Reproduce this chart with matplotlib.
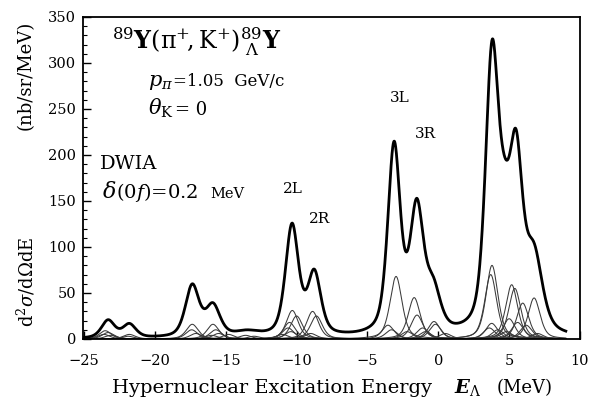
import numpy as np
import matplotlib
matplotlib.use("Agg")
import matplotlib.pyplot as plt
from matplotlib.ticker import MultipleLocator

plt.rcParams['font.family'] = ['DejaVu Serif']
plt.rcParams['mathtext.fontset'] = 'dejavuserif'

# ---- data ----
# peaks of the total (thick) spectrum: energy (MeV), value at that energy (nb/sr/MeV), FWHM (MeV)
peak_E = [-23.3, -21.8, -17.36, -15.9, -13.5, -10.32, -8.75, -3.12, -1.52, -0.35, 3.79, 4.65, 5.49, 6.75]
peak_val = [21, 17, 60, 39.5, 10, 126, 76, 215, 153, 68, 325, 200, 228, 105]
peak_W = [1.1, 1.1, 1.15, 1.2, 2.0, 1.1, 1.1, 1.05, 1.15, 1.2, 1.1, 1.15, 1.1, 1.4]

# individual (thin) components: energy, peak height, FWHM
comp_E = [-23.5, -23.3, -23.6, -23.1, -21.8, -21.9,
          -17.36, -15.9, -17.4, -17.1, -15.7, -15.5, -16.0, -14.8, -13.6, -13.0,
          -10.3, -10.0, -10.5, -10.6, -10.4, -8.87, -8.6, -9.0, -11.0,
          -2.98, -1.7, -1.5, -0.3, -0.2, -3.55, -3.3, -1.1, -2.2, 0.5, -0.9,
          3.79, 3.7, 5.18, 5.4, 5.96, 6.76, 3.77, 3.6, 4.2, 5.0, 5.6, 6.2, 4.8, 7.0]
comp_H = [9, 7, 5, 4, 5, 3,
          16, 16, 10, 6, 10, 6, 4, 5, 4, 3,
          31, 25, 18, 12, 8, 30, 25, 6, 5,
          68, 45, 26, 19, 16, 15, 10, 12, 8, 6, 8,
          80, 70, 59, 55, 39, 44.6, 17, 12, 10, 22, 18, 15, 8, 6]
comp_W = [1.0] * len(comp_E)

xticks = [-25, -20, -15, -10, -5, 0, 5, 10]
yticks = [0, 50, 100, 150, 200, 250, 300, 350]


def shape(x, e0, w, eta=0.5):
    # pseudo-Voigt line shape, normalised to 1 at the centre
    lor = 1.0 / (1.0 + ((x - e0) / (w / 2.0)) ** 2)
    sig = w / 2.3548
    gau = np.exp(-0.5 * ((x - e0) / sig) ** 2)
    return eta * lor + (1 - eta) * gau


W, H = 591, 407
fig = plt.figure(figsize=(W / 100, H / 100), dpi=100)
ax = fig.add_axes([83 / W, 1 - 339 / H, (580 - 83) / W, (339 - 17) / H])

x = np.linspace(-25.0, 9.0, 2000)

# thin components
for e0, h, w in zip(comp_E, comp_H, comp_W):
    ax.plot(x, h * shape(x, e0, w), color='#3a3a3a', lw=0.75)

# total spectrum passes through the read peak values
pe = np.array(peak_E)
pw = np.array(peak_W)
A = np.array([[shape(ei, ej, wj) for ej, wj in zip(pe, pw)] for ei in pe])
amp = np.linalg.solve(A, np.array(peak_val, float))
amp = np.clip(amp, 0, None)
total = sum(a * shape(x, e0, w) for a, e0, w in zip(amp, pe, pw))
ax.plot(x, total, color='black', lw=2.0)

ax.set_xlim(-25.07, 10.0)
ax.set_ylim(0, 350)
ax.set_xticks(xticks)
ax.set_yticks(yticks)
ax.yaxis.set_minor_locator(MultipleLocator(10))
ax.tick_params(axis='y', which='major', direction='in', length=6, width=1.0, pad=5, labelsize=10.5)
ax.tick_params(axis='y', which='minor', direction='in', length=3, width=0.8)
ax.tick_params(axis='x', which='major', direction='in', length=6, width=1.0, pad=11, labelsize=10.5)
for s in ax.spines.values():
    s.set_linewidth(1.3)


def fx(px):
    return px / W


def fy(py):
    return 1 - py / H


# title & annotations
fig.text(fx(112), fy(50), r"$^{89}\mathbf{Y}\mathrm{(\pi^{+}\!,K^{+})}^{89}_{\ \Lambda}\mathbf{Y}$",
         fontsize=17, ha='left', va='baseline')
fig.text(fx(148), fy(86), r"$p_{\pi}$", fontsize=15, ha='left', va='baseline')
fig.text(fx(173), fy(86), "=1.05  GeV/c", fontsize=12, ha='left', va='baseline')
fig.text(fx(148), fy(115), r"$\theta_{\mathrm{K}}$", fontsize=15, ha='left', va='baseline')
fig.text(fx(175), fy(115), "= 0", fontsize=13, ha='left', va='baseline')
fig.text(fx(100), fy(169), "DWIA", fontsize=14, ha='left', va='baseline')
fig.text(fx(102), fy(198), r"$\delta$", fontsize=16, ha='left', va='baseline')
fig.text(fx(116), fy(198), r"(0$f$)=0.2", fontsize=14, ha='left', va='baseline')
fig.text(fx(210), fy(198), "MeV", fontsize=10.5, ha='left', va='baseline')

fig.text(fx(283), fy(193), "2L", fontsize=11, ha='left', va='baseline')
fig.text(fx(309), fy(223), "2R", fontsize=11, ha='left', va='baseline')
fig.text(fx(390), fy(102), "3L", fontsize=11, ha='left', va='baseline')
fig.text(fx(415), fy(138), "3R", fontsize=11, ha='left', va='baseline')

# axis labels
fig.text(fx(26), fy(75), "(nb/sr/MeV)", rotation=90, fontsize=13, ha='center', va='center')
fig.text(fx(26), fy(282), r"d$^2\sigma$/d$\Omega$dE", rotation=90, fontsize=13, ha='center', va='center')
fig.text(fx(112), fy(393), "Hypernuclear Excitation Energy", fontsize=14, ha='left', va='baseline')
fig.text(fx(454), fy(393), r"$\boldsymbol{E}_{\Lambda}$", fontsize=14, ha='left', va='baseline')
fig.text(fx(497), fy(393), "(MeV)", fontsize=13, ha='left', va='baseline')

fig.savefig("out.png", dpi=100)
